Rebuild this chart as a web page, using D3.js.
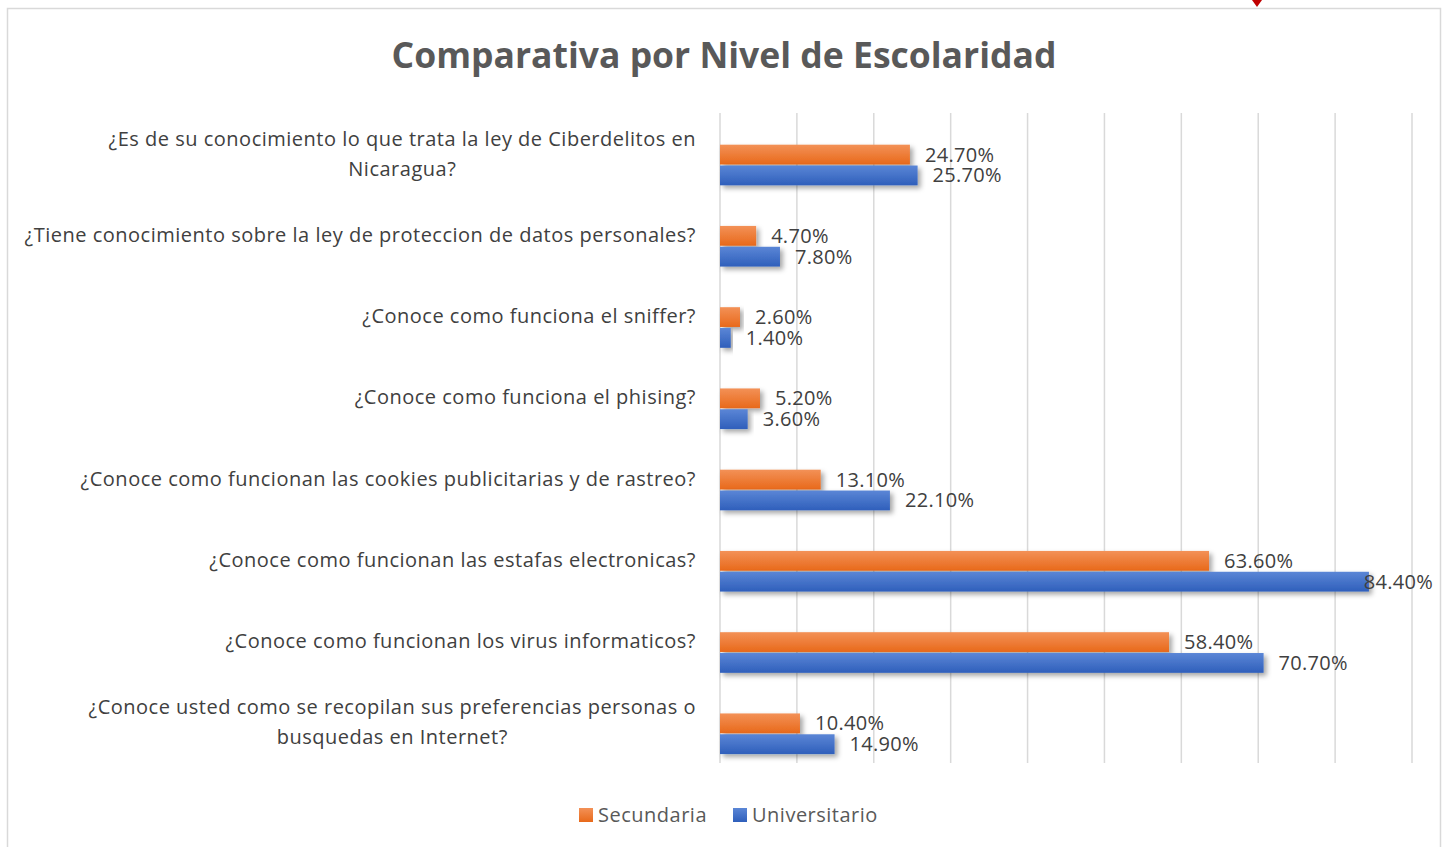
<!DOCTYPE html>
<html>
<head>
<meta charset="utf-8">
<script src="https://cdn.jsdelivr.net/npm/d3@7"></script>
<style>
  html, body { margin: 0; padding: 0; background: #ffffff; }
  svg { display: block; }
</style>
</head>
<body>
<div id="chart"></div>
<script>
// Chart data
const categories = [
    "¿Es de su conocimiento lo que trata la ley de Ciberdelitos en Nicaragua?",
    "¿Tiene conocimiento sobre la ley de proteccion de datos personales?",
    "¿Conoce como funciona el sniffer?",
    "¿Conoce como funciona el phising?",
    "¿Conoce como funcionan las cookies publicitarias y de rastreo?",
    "¿Conoce como funcionan las estafas electronicas?",
    "¿Conoce como funcionan los virus informaticos?",
    "¿Conoce usted como se recopilan sus preferencias personas o busquedas en Internet?"
];
const seriesNames = ["Secundaria", "Universitario"];
const secundaria = [0.247, 0.047, 0.026, 0.052, 0.131, 0.636, 0.584, 0.104];
const universitario = [0.257, 0.078, 0.014, 0.036, 0.221, 0.844, 0.707, 0.149];
const xTicks = [0, 0.1, 0.2, 0.3, 0.4, 0.5, 0.6, 0.7, 0.8, 0.9];

const width = 1448;
const height = 847;
const fontFamily = "'Open Sans', 'Noto Sans', sans-serif";
const colors = {
    Secundaria: ["#f39157", "#e8691a"],
    Universitario: ["#5b86d6", "#2f5fbb"]
};

const svg = d3.select("#chart")
    .append("svg")
    .attr("width", width)
    .attr("height", height);

// Gradients and shadow
const defs = svg.append("defs");
seriesNames.forEach((name, i) => {
    const g = defs.append("linearGradient")
        .attr("id", "grad" + i)
        .attr("x1", 0).attr("y1", 0).attr("x2", 0).attr("y2", 1);
    g.append("stop").attr("offset", "0%").attr("stop-color", colors[name][0]);
    g.append("stop").attr("offset", "100%").attr("stop-color", colors[name][1]);
});
const shadow = defs.append("filter")
    .attr("id", "shadow")
    .attr("x", "-10%").attr("y", "-50%")
    .attr("width", "130%").attr("height", "250%");
shadow.append("feDropShadow")
    .attr("dx", 3).attr("dy", 3)
    .attr("stdDeviation", 2.5)
    .attr("flood-color", "#000")
    .attr("flood-opacity", 0.35);

// Chart frame
svg.append("rect")
    .attr("x", 7.5).attr("y", 8.5)
    .attr("width", 1433).attr("height", 860)
    .attr("fill", "none")
    .attr("stroke", "#d9d9d9")
    .attr("stroke-width", 1.5);

// small red marker above the frame
svg.append("path")
    .attr("d", "M1252,0 L1262,0 L1257,7 Z")
    .attr("fill", "#c00000");

// Title
svg.append("text")
    .attr("x", 724)
    .attr("y", 68)
    .attr("text-anchor", "middle")
    .attr("font-family", fontFamily)
    .attr("font-size", "35.5px")
    .attr("font-weight", "bold")
    .attr("fill", "#595959")
    .text("Comparativa por Nivel de Escolaridad");

// Scales
const xScale = d3.scaleLinear()
    .domain([0, 0.9])
    .range([720, 1412]);

const yScale = d3.scaleBand()
    .domain(categories)
    .range([113, 763])
    .padding(0);

const bw = yScale.bandwidth();
const ySeries = d3.scaleBand()
    .domain(seriesNames)
    .range([bw * 0.39, bw * 0.89])
    .paddingInner(0.05);

// Gridlines
svg.append("g")
    .selectAll("line")
    .data(xTicks)
    .enter()
    .append("line")
    .attr("x1", d => xScale(d))
    .attr("x2", d => xScale(d))
    .attr("y1", 113)
    .attr("y2", 763)
    .attr("stroke", "#d9d9d9")
    .attr("stroke-width", 1.5);

// Category labels (wrapped, lines centred inside a right-aligned block)
const labelGroup = svg.append("g")
    .attr("font-family", fontFamily)
    .attr("font-size", "20px")
    .attr("letter-spacing", "0.5px")
    .attr("fill", "#404040");

const maxLabelWidth = 685;
const labelRight = 696;
categories.forEach(cat => {
    const t = labelGroup.append("text")
        .attr("text-anchor", "middle");
    const words = cat.split(" ");
    let lines = [];
    let line = [];
    words.forEach(w => {
        line.push(w);
        t.text(line.join(" "));
        if (t.node().getComputedTextLength() > maxLabelWidth && line.length > 1) {
            line.pop();
            lines.push(line.join(" "));
            line = [w];
        }
    });
    lines.push(line.join(" "));
    // widest line sets the block width
    let blockW = 0;
    lines.forEach(l => {
        t.text(l);
        blockW = Math.max(blockW, t.node().getComputedTextLength());
    });
    t.text(null);
    const lineHeight = 30;
    const cy = yScale(cat) + bw / 2;
    lines.forEach((l, i) => {
        t.append("tspan")
            .attr("x", labelRight - blockW / 2)
            .attr("y", cy + (i - (lines.length - 1) / 2) * lineHeight)
            .attr("dy", "0.35em")
            .text(l);
    });
});

// Bars
const rows = [];
categories.forEach((cat, i) => {
    rows.push({ cat: cat, series: "Secundaria", idx: 0, value: secundaria[i] });
    rows.push({ cat: cat, series: "Universitario", idx: 1, value: universitario[i] });
});

svg.append("g")
    .selectAll("rect")
    .data(rows)
    .enter()
    .append("rect")
    .attr("x", xScale(0))
    .attr("y", d => yScale(d.cat) + ySeries(d.series))
    .attr("width", d => xScale(d.value) - xScale(0))
    .attr("height", ySeries.bandwidth())
    .attr("fill", d => "url(#grad" + d.idx + ")")
    .attr("filter", "url(#shadow)");

// Data labels
const valueLabels = svg.append("g")
    .attr("font-family", fontFamily)
    .attr("font-size", "20px")
    .attr("letter-spacing", "0.3px")
    .attr("fill", "#404040");

rows.forEach(d => {
    const t = valueLabels.append("text")
        .attr("y", yScale(d.cat) + ySeries(d.series) + ySeries.bandwidth() / 2)
        .attr("dy", "0.35em")
        .text((d.value * 100).toFixed(2) + "%");
    let x = xScale(d.value) + 15;
    const w = t.node().getComputedTextLength();
    if (x + w > 1433) x = 1433 - w; // keep inside the chart area
    t.attr("x", x);
});

// Legend
const legend = svg.append("g")
    .attr("font-family", fontFamily)
    .attr("font-size", "20px")
    .attr("letter-spacing", "0.5px")
    .attr("fill", "#595959");
const legendX = [579, 733];
seriesNames.forEach((name, i) => {
    legend.append("rect")
        .attr("x", legendX[i])
        .attr("y", 808)
        .attr("width", 14)
        .attr("height", 14)
        .attr("fill", "url(#grad" + i + ")");
    legend.append("text")
        .attr("x", legendX[i] + 19)
        .attr("y", 815)
        .attr("dy", "0.35em")
        .text(name);
});
</script>
</body>
</html>
